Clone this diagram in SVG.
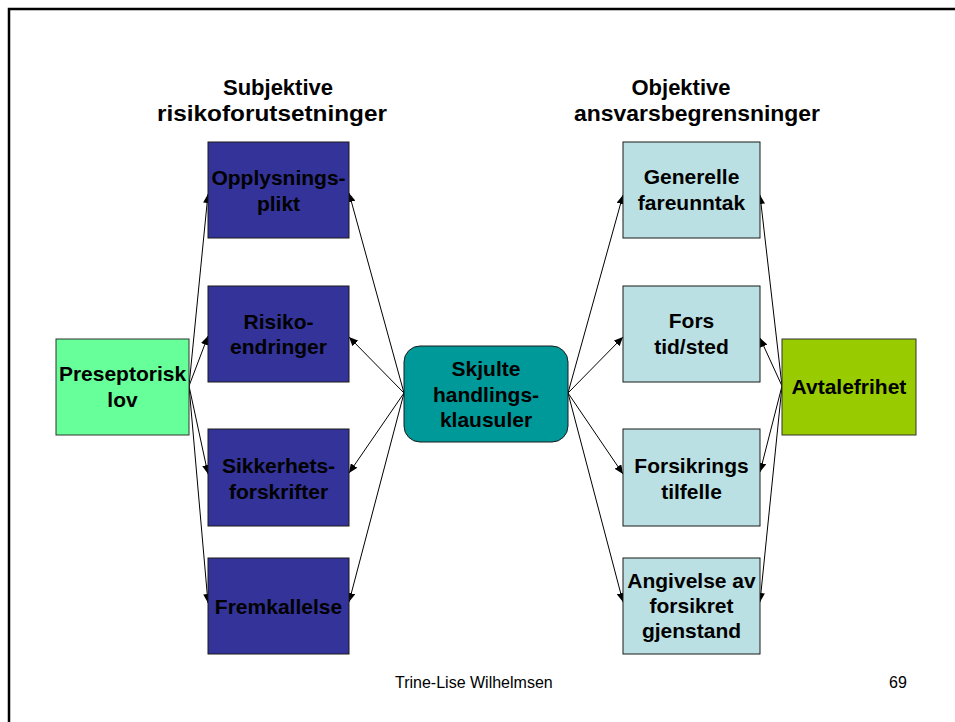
<svg xmlns="http://www.w3.org/2000/svg" width="955" height="722" viewBox="0 0 955 722">
<style>
text{font-family:"Liberation Sans",Arial,sans-serif;font-weight:bold;fill:#000;text-anchor:middle}
.t{font-size:21px}
.h{font-size:22px}
.f{font-size:16px;font-weight:normal;text-anchor:start}
.bl{fill:#333399;stroke:#1a1a1a;stroke-width:1}
.lb{fill:#BBE0E3;stroke:#1a1a1a;stroke-width:1}
.c line{stroke:#000;stroke-width:1;marker-end:url(#ah)}
</style>
<defs>
<marker id="ah" markerUnits="userSpaceOnUse" markerWidth="10" markerHeight="8" refX="9" refY="4" orient="auto">
<path d="M0,0 L9,4 L0,8 z" fill="#000"/>
</marker>
</defs>
<rect width="955" height="722" fill="#fff"/>
<path d="M9,722 V9 H955" fill="none" stroke="#000" stroke-width="2.5"/>

<g id="titles">
<text class="h" x="278" y="95">Subjektive</text>
<text class="h" x="272" y="121" textLength="230" lengthAdjust="spacingAndGlyphs">risikoforutsetninger</text>
<text class="h" x="681" y="95">Objektive</text>
<text class="h" x="697" y="121" textLength="246" lengthAdjust="spacingAndGlyphs">ansvarsbegrensninger</text>
</g>

<g class="c" id="connectors">
<line x1="189" y1="386" x2="208" y2="194"/>
<line x1="189" y1="386" x2="208" y2="336"/>
<line x1="189" y1="386" x2="208" y2="474"/>
<line x1="189" y1="386" x2="208" y2="603"/>
<line x1="404" y1="393" x2="349" y2="193"/>
<line x1="404" y1="393" x2="349" y2="337"/>
<line x1="404" y1="393" x2="349" y2="473"/>
<line x1="404" y1="393" x2="349" y2="602"/>
<line x1="568" y1="393" x2="623" y2="195"/>
<line x1="568" y1="393" x2="623" y2="337"/>
<line x1="568" y1="393" x2="623" y2="474"/>
<line x1="568" y1="393" x2="623" y2="602"/>
<line x1="782" y1="386" x2="760" y2="195"/>
<line x1="782" y1="386" x2="760" y2="338"/>
<line x1="782" y1="386" x2="760" y2="472"/>
<line x1="782" y1="386" x2="760" y2="602"/>
</g>

<g id="preseptorisk">
<rect x="56" y="339" width="133" height="96" fill="#66FF99" stroke="#333" stroke-width="1"/>
<text class="t" x="122.5" y="381">Preseptorisk</text>
<text class="t" x="122.5" y="407">lov</text>
</g>

<g id="opplysningsplikt">
<rect class="bl" x="208" y="142" width="141" height="96"/>
<text class="t" x="278.5" y="185">Opplysnings-</text>
<text class="t" x="278.5" y="211">plikt</text>
</g>
<g id="risikoendringer">
<rect class="bl" x="208" y="286" width="141" height="96"/>
<text class="t" x="278.5" y="329">Risiko-</text>
<text class="t" x="278.5" y="354">endringer</text>
</g>
<g id="sikkerhetsforskrifter">
<rect class="bl" x="208" y="429" width="141" height="97"/>
<text class="t" x="278.5" y="473">Sikkerhets-</text>
<text class="t" x="278.5" y="499">forskrifter</text>
</g>
<g id="fremkallelse">
<rect class="bl" x="208" y="558" width="141" height="96"/>
<text class="t" x="278.5" y="614">Fremkallelse</text>
</g>

<g id="skjulte">
<rect x="404" y="346" width="164" height="96" rx="16" fill="#009999" stroke="#1a1a1a" stroke-width="1"/>
<text class="t" x="486" y="376">Skjulte</text>
<text class="t" x="486" y="402">handlings-</text>
<text class="t" x="486" y="427">klausuler</text>
</g>

<g id="generelle">
<rect class="lb" x="623" y="142" width="137" height="96"/>
<text class="t" x="691.5" y="184">Generelle</text>
<text class="t" x="691.5" y="210">fareunntak</text>
</g>
<g id="fors">
<rect class="lb" x="623" y="286" width="137" height="96"/>
<text class="t" x="691.5" y="328">Fors</text>
<text class="t" x="691.5" y="354">tid/sted</text>
</g>
<g id="forsikringstilfelle">
<rect class="lb" x="623" y="429" width="137" height="97"/>
<text class="t" x="691.5" y="473">Forsikrings</text>
<text class="t" x="691.5" y="499">tilfelle</text>
</g>
<g id="angivelse">
<rect class="lb" x="623" y="558" width="137" height="96"/>
<text class="t" x="691.5" y="588">Angivelse av</text>
<text class="t" x="691.5" y="613">forsikret</text>
<text class="t" x="691.5" y="638">gjenstand</text>
</g>

<g id="avtalefrihet">
<rect x="782" y="339" width="134" height="96" fill="#99CC00" stroke="#333" stroke-width="1"/>
<text class="t" x="849" y="394">Avtalefrihet</text>
</g>

<g id="footer">
<text class="f" x="395" y="688">Trine-Lise Wilhelmsen</text>
<text class="f" x="889" y="688">69</text>
</g>
</svg>
